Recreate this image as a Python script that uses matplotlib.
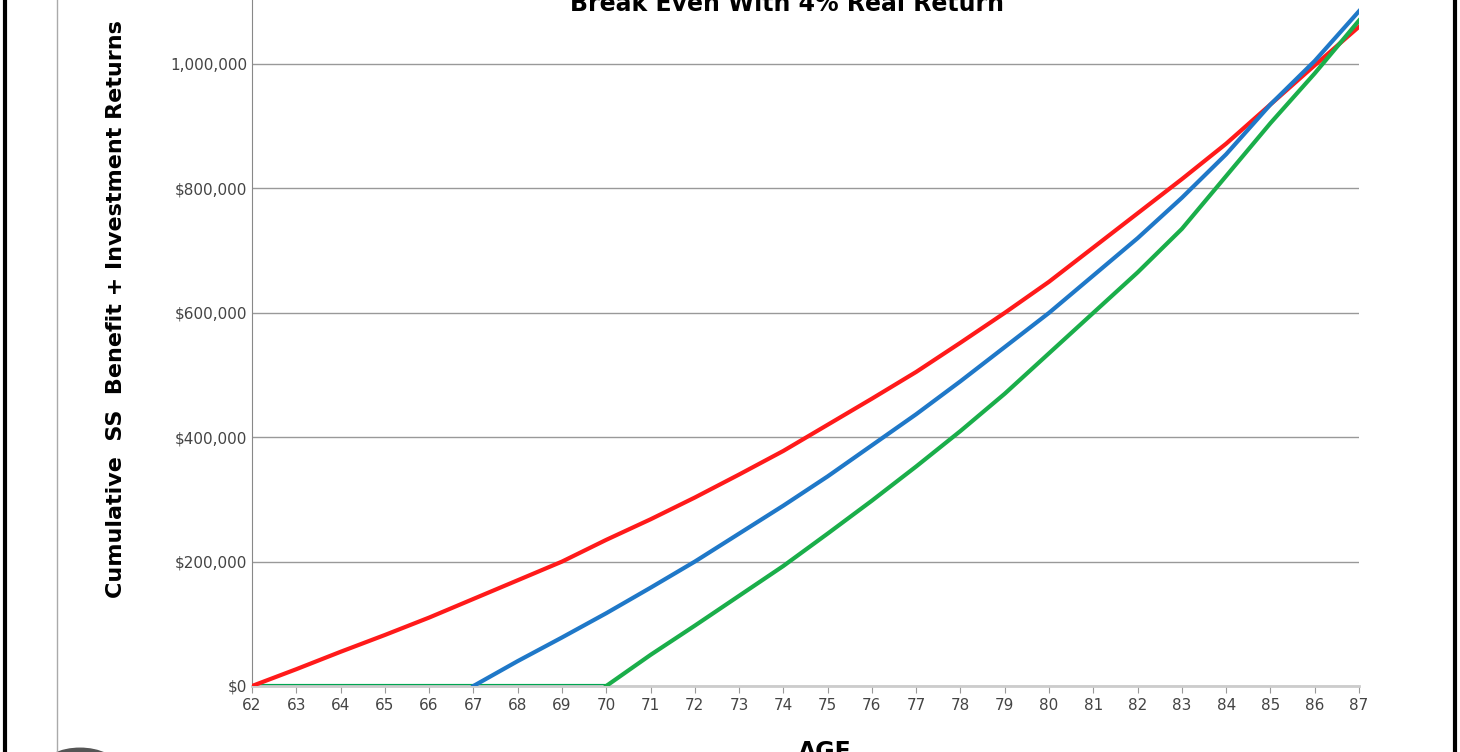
import matplotlib
matplotlib.use("Agg")
import matplotlib.pyplot as plt
from matplotlib.patches import Circle

ages = list(range(62, 88))
red = [0, 27, 55, 82, 110, 140, 170, 200, 235, 268, 303, 340, 378, 420, 462, 505,
       552, 600, 650, 705, 760, 815, 872, 935, 998, 1060]
blue_ages = list(range(67, 88))
blue = [0, 40, 78, 117, 158, 200, 245, 290, 337, 387, 437, 490, 545, 600, 660, 720,
        785, 855, 935, 1005, 1085]
green_ages = list(range(70, 88))
green = [0, 50, 97, 145, 193, 245, 298, 353, 410, 470, 535, 600, 665, 735, 820, 905, 985, 1070]
yticks = [0, 200000, 400000, 600000, 800000, 1000000]
ylabels = ["$0", "$200,000", "$400,000", "$600,000", "$800,000", "1,000,000"]

W, H = 1460, 752
fig = plt.figure(figsize=(W/100, H/100), dpi=100)
ax = fig.add_axes([252/W, (H-686)/H, (1359-252)/W, 686/H])
ax.plot(ages[:9], [0]*9, color="#00a651", lw=3)
ax.plot(ages, [v*1000 for v in red], color="#ff1a1a", lw=3, zorder=3)
ax.plot(blue_ages, [v*1000 for v in blue], color="#1f78c8", lw=3, zorder=4)
ax.plot(green_ages, [v*1000 for v in green], color="#1aae4a", lw=3, zorder=5)
ax.set_xlim(62, 87)
ax.set_ylim(0, 1.103e6)
ax.set_xticks(ages)
ax.set_yticks(yticks)
ax.set_yticklabels(ylabels)
ax.tick_params(labelsize=11, colors="#444444", length=5)
ax.tick_params(axis="x", color="#999999")
ax.tick_params(axis="y", length=0)
ax.yaxis.grid(True, color="#999999", lw=1)
for s in ["top", "right"]:
    ax.spines[s].set_visible(False)
ax.spines["left"].set_color("#888888")
ax.spines["bottom"].set_color("#cccccc")
ax.spines["bottom"].set_linewidth(2)
ax.set_axisbelow(True)
ax.set_ylabel("Cumulative  SS  Benefit + Investment Returns", fontsize=16,
              fontweight="bold")
ax.yaxis.set_label_coords(-0.114, 0.55)
fig.text(787/W, 0.995, "Break Even With 4% Real Return", ha="center", va="center",
         fontsize=17, fontweight="bold")
fig.text(825/W, 0.0, "AGE", ha="center", va="center", fontsize=17, fontweight="bold")
for x, c, lw in [(5, "black", 3), (1455, "black", 3), (57, "#aaaaaa", 1)]:
    fig.add_artist(plt.Line2D([x/W, x/W], [0, 1], color=c, lw=lw))
fig.add_artist(Circle((80/W, -0.02), 0.025, color="#555555", transform=fig.transFigure))
fig.savefig("out.png", dpi=100)
